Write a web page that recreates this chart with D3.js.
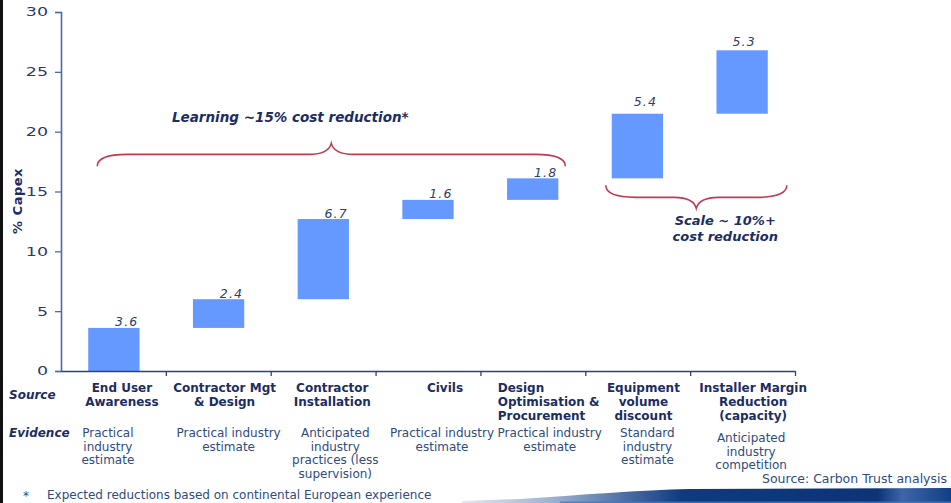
<!DOCTYPE html>
<html>
<head>
<meta charset="utf-8">
<script src="https://cdn.jsdelivr.net/npm/d3@7"></script>
<style>
  html, body { margin: 0; padding: 0; background: #ffffff; }
  svg { display: block; font-family: "DejaVu Sans", Verdana, sans-serif; }
</style>
</head>
<body>
<svg id="chart" width="951" height="503"></svg>
<script>
// ---- data -------------------------------------------------------------
const categories = [
  "End User Awareness",
  "Contractor Mgt & Design",
  "Contractor Installation",
  "Civils",
  "Design Optimisation & Procurement",
  "Equipment volume discount",
  "Installer Margin Reduction (capacity)"
];
const categoryLines = [
  ["End User", "Awareness"],
  ["Contractor Mgt", "& Design"],
  ["Contractor", "Installation"],
  ["Civils"],
  ["Design", "Optimisation &", "Procurement"],
  ["Equipment", "volume", "discount"],
  ["Installer Margin", "Reduction", "(capacity)"]
];
const evidenceLines = [
  ["Practical", "industry", "estimate"],
  ["Practical industry", "estimate"],
  ["Anticipated", "industry", "practices (less", "supervision)"],
  ["Practical industry", "estimate"],
  ["Practical industry", "estimate"],
  ["Standard", "industry", "estimate"],
  ["Anticipated", "industry", "competition"]
];
// % capex reduction contributed by each lever
const reductions = [3.6, 2.4, 6.7, 1.6, 1.8, 5.4, 5.3];
const yTicks = [0, 5, 10, 15, 20, 25, 30];
const groupLabels = [
  { from: 0, to: 4, lines: ["Learning ~15% cost reduction*"] },
  { from: 5, to: 6, lines: ["Scale ~ 10%+", "cost reduction"] }
];
const footnote = "Expected reductions based on continental European experience";
const sourceNote = "Source:  Carbon Trust analysis";

// ---- layout -----------------------------------------------------------
const navy = "#1c2d62";
const textBlue = "#2f4b80";
const braceRed = "#c23a52";
const barFill = "#6699ff";

const svg = d3.select("#chart");

const ends = d3.cumsum(reductions);
const starts = ends.map((e, i) => e - reductions[i]);

const y = d3.scaleLinear().domain([0, 30]).range([371, 12]);
const x = d3.scaleBand().domain(categories).range([61, 795])
  .paddingInner(0.51).paddingOuter(0.26);
const bw = x.bandwidth();
const cx = i => x(categories[i]) + bw / 2;
const edges = d3.scaleLinear().domain([0, categories.length]).range([61, 795]);

// per-column placement of the text rows (the fifth heading is left-aligned)
const catAnchor = ["middle", "middle", "middle", "middle", "start", "middle", "middle"];
const catDx = [8, 6, 9, 17, -35, 6, 11];
const evDx = [-6, 10, 12, 14, 17, 10, 9];
const evDy = [0, 0, 0, 0, 0, 0, 5];

// dark edge at the far left
svg.append("rect").attr("x", 0).attr("y", 0).attr("width", 3).attr("height", 503).attr("fill", "#111");

// ---- bars ---------------------------------------------------------------
svg.append("g").selectAll("rect").data(reductions).join("rect")
  .attr("x", (d, i) => x(categories[i]))
  .attr("y", (d, i) => y(ends[i]))
  .attr("width", bw)
  .attr("height", (d, i) => y(starts[i]) - y(ends[i]))
  .attr("fill", barFill);

// value labels
const valDx = [0, 0, 0, 0, 0, 8, 2];
const valDy = [1.5, 1.5, 1.5, 1.5, 1.5, 8, 4];
svg.append("g").selectAll("text").data(reductions).join("text")
  .attr("x", (d, i) => i < 5 ? x(categories[i]) + bw - 1 : cx(i) + valDx[i])
  .attr("y", (d, i) => y(ends[i]) - valDy[i])
  .attr("text-anchor", (d, i) => i < 5 ? "end" : "middle")
  .attr("font-size", 12.5)
  .attr("font-style", "italic")
  .attr("letter-spacing", 1.2)
  .attr("fill", "#2d3f6e")
  .text(d => d.toFixed(1));

// ---- axes ---------------------------------------------------------------
const yAxis = svg.append("g").attr("transform", "translate(61,0)")
  .call(d3.axisLeft(y).tickValues(yTicks).tickSize(6).tickPadding(7));
yAxis.select(".domain").attr("stroke", "#4d6ca3").attr("stroke-width", 1.6);
yAxis.selectAll(".tick line").attr("stroke", "#4d6ca3").attr("stroke-width", 1.3);
yAxis.selectAll(".tick text")
  .attr("font-family", "'DejaVu Sans', Verdana, sans-serif")
  .attr("font-size", 12)
  .attr("fill", "#2a3b6a")
  .each(function () {
    const w = this.getComputedTextLength();
    d3.select(this).attr("textLength", w * 1.45).attr("lengthAdjust", "spacingAndGlyphs");
  });

const xAxis = svg.append("g").attr("transform", "translate(0,371)")
  .call(d3.axisBottom(edges).tickValues(d3.range(1, categories.length + 1))
    .tickFormat("").tickSize(5).tickSizeOuter(0));
xAxis.select(".domain").attr("stroke", "#24457d").attr("stroke-width", 1.6);
xAxis.selectAll(".tick line").attr("stroke", "#24457d").attr("stroke-width", 1.3);

// y axis title
svg.append("text")
  .attr("transform", "translate(22,201) rotate(-90)")
  .attr("text-anchor", "middle")
  .attr("font-size", 13)
  .attr("font-weight", "bold")
  .attr("letter-spacing", 0.5)
  .attr("fill", navy)
  .text("% Capex");

// ---- braces -------------------------------------------------------------
function brace(x0, x1, yLine, dir) {
  // dir = -1 : tip points up, ends curl down; dir = 1 : tip points down
  const mid = (x0 + x1) / 2;
  const yEnd = yLine - dir * 12;
  const yTip = yLine + dir * 11;
  const p = d3.path();
  p.moveTo(x0, yEnd);
  p.quadraticCurveTo(x0, yLine, x0 + 30, yLine);
  p.lineTo(mid - 22, yLine);
  p.quadraticCurveTo(mid - 3, yLine, mid, yTip);
  p.quadraticCurveTo(mid + 3, yLine, mid + 22, yLine);
  p.lineTo(x1 - 30, yLine);
  p.quadraticCurveTo(x1, yLine, x1, yEnd);
  return p.toString();
}

// learning group: brace above its bars
const g0 = groupLabels[0];
const l0 = x(categories[g0.from]) + 9;
const r0 = x(categories[g0.to]) + bw + 7;
const top0 = y(d3.max(ends.slice(g0.from, g0.to + 1))) - 24;
svg.append("path").attr("d", brace(l0, r0, top0, -1))
  .attr("fill", "none").attr("stroke", braceRed).attr("stroke-width", 1.6);
svg.append("text")
  .attr("x", (l0 + r0) / 2 - 41).attr("y", top0 - 32)
  .attr("text-anchor", "middle")
  .attr("font-size", 13.5).attr("font-weight", "bold").attr("font-style", "italic")
  .attr("fill", navy)
  .text(g0.lines[0]);

// scale group: brace below its bars
const g1 = groupLabels[1];
const l1 = x(categories[g1.from]) - 6;
const r1 = x(categories[g1.to]) + bw + 19;
const bot1 = y(starts[g1.from]) + 19;
svg.append("path").attr("d", brace(l1, r1, bot1, 1))
  .attr("fill", "none").attr("stroke", braceRed).attr("stroke-width", 1.6);
svg.append("g").selectAll("text").data(g1.lines).join("text")
  .attr("x", (l1 + r1) / 2 + 29)
  .attr("y", (d, i) => bot1 + 28 + i * 16)
  .attr("text-anchor", "middle")
  .attr("font-size", 13).attr("font-weight", "bold").attr("font-style", "italic")
  .attr("fill", navy)
  .text(d => d);

// ---- table rows under the axis -----------------------------------------
svg.append("text").attr("x", 9).attr("y", 399)
  .attr("font-size", 12).attr("font-weight", "bold").attr("font-style", "italic")
  .attr("fill", navy).text("Source");
svg.append("text").attr("x", 9).attr("y", 437)
  .attr("font-size", 12).attr("font-weight", "bold").attr("font-style", "italic")
  .attr("fill", navy).text("Evidence");

const catG = svg.append("g").selectAll("text").data(categoryLines).join("text")
  .attr("text-anchor", (d, i) => catAnchor[i])
  .attr("font-size", 12).attr("font-weight", "bold")
  .attr("fill", navy);
catG.selectAll("tspan").data((d, i) => d.map(t => ({ t, i }))).join("tspan")
  .attr("x", d => cx(d.i) + catDx[d.i])
  .attr("y", (d, j) => 392 + j * 14)
  .text(d => d.t);

const evG = svg.append("g").selectAll("text").data(evidenceLines).join("text")
  .attr("text-anchor", "middle")
  .attr("font-size", 12)
  .attr("fill", textBlue);
evG.selectAll("tspan").data((d, i) => d.map(t => ({ t, i }))).join("tspan")
  .attr("x", d => cx(d.i) + evDx[d.i])
  .attr("y", (d, j) => 437 + evDy[d.i] + j * 13.7)
  .text(d => d.t);

// ---- notes ---------------------------------------------------------------
svg.append("text").attr("x", 947).attr("y", 483)
  .attr("text-anchor", "end").attr("font-size", 12.5)
  .attr("fill", textBlue).text(sourceNote);

// decorative band along the bottom edge
const defs = svg.append("defs");
const grad = defs.append("linearGradient").attr("id", "band")
  .attr("x1", 462).attr("x2", 951).attr("y1", 0).attr("y2", 0)
  .attr("gradientUnits", "userSpaceOnUse");
grad.append("stop").attr("offset", 0).attr("stop-color", "#e3e8f0");
grad.append("stop").attr("offset", 0.18).attr("stop-color", "#9fb3d3");
grad.append("stop").attr("offset", 0.45).attr("stop-color", "#0f3a80");
grad.append("stop").attr("offset", 0.85).attr("stop-color", "#0c3477");
grad.append("stop").attr("offset", 0.9).attr("stop-color", "#3d66a6");
grad.append("stop").attr("offset", 1).attr("stop-color", "#123f86");
svg.append("path")
  .attr("d", "M462,501 L520,499 C580,495 640,490 690,489 L951,488 L951,503 L462,503 Z")
  .attr("fill", "url(#band)");
svg.append("rect").attr("x", 560).attr("y", 501.5).attr("width", 391).attr("height", 1.5)
  .attr("fill", "#3f7bc4").attr("opacity", 0.8);

svg.append("text").attr("x", 23).attr("y", 500)
  .attr("font-size", 12).attr("fill", textBlue).text("*");
svg.append("text").attr("x", 47).attr("y", 499)
  .attr("font-size", 12).attr("fill", textBlue).text(footnote);
</script>
</body>
</html>
